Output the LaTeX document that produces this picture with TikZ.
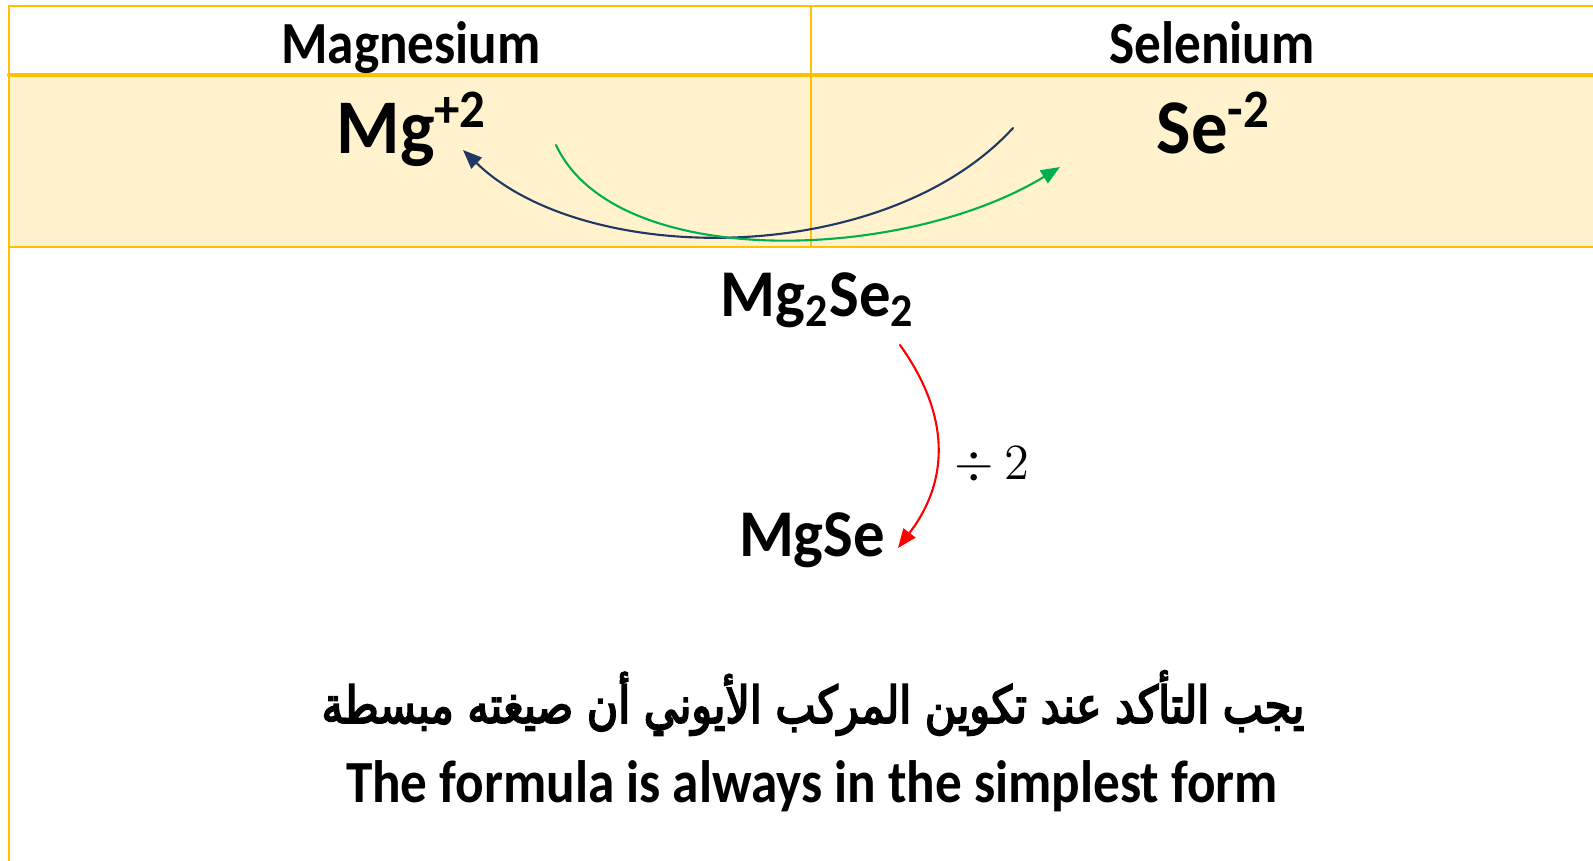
\documentclass[tikz,border=0pt]{standalone}
\usepackage{fontspec}
\setmainfont{Carlito}[FakeStretch=0.89]
\newfontfamily\formfont{Carlito}[FakeStretch=0.94]
\newfontfamily\arabicfont[Script=Arabic,FakeBold=3.5,FakeStretch=0.84]{DejaVu Sans}
\TeXXeTstate=1
\usepackage{tikz}
\usetikzlibrary{arrows.meta}
\usepackage{xcolor}
\definecolor{tblline}{HTML}{FFC000}
\definecolor{tblfill}{HTML}{FFF2CC}
\definecolor{navyarr}{HTML}{203864}
\definecolor{greenarr}{HTML}{00B050}

\begin{document}
\begin{tikzpicture}[x=0.01cm,y=-0.01cm,>={Triangle[length=1.9mm,width=1.5mm]},line cap=round,font=\bfseries]
\useasboundingbox (0,0) rectangle (1593,861);
\fill[tblfill] (9,75) rectangle (1593,247);
\draw[tblline,line width=0.75pt] (1593,6) -- (9,6) -- (9,861);
\draw[tblline,line width=1.2pt] (9,75) -- (1593,75);
\draw[tblline,line width=0.75pt] (9,247) -- (1593,247);
\draw[tblline,line width=0.6pt] (811,6) -- (811,247);
\node[anchor=base,font=\bfseries\fontsize{17}{20}\selectfont] (magn) at (411,64) {Magnesium};
\node[anchor=base,font=\bfseries\fontsize{17}{20}\selectfont] (selen) at (1212,64) {Selenium};
\node[anchor=base,font=\formfont\bfseries\fontsize{22}{26}\selectfont] (mgion) at (412,154) {Mg\textsuperscript{+2}};
\node[anchor=base,font=\formfont\bfseries\fontsize{22}{26}\selectfont] (seion) at (1214,154) {Se\textsuperscript{-2}};
\node[anchor=base,font=\formfont\bfseries\fontsize{19}{23}\selectfont] (mgtwose) at (818,317) {Mg\textsubscript{2}Se\textsubscript{2}};
\node[anchor=base,font=\formfont\bfseries\fontsize{19}{23}\selectfont] (mgse) at (812,557) {MgSe};
\node[anchor=base,font=\fontsize{15.5}{18}\selectfont] (divtwo) at (992,480) {$\div\ 2$};
\node[anchor=base,font=\fontsize{14.5}{18}\selectfont] (ar) at (813,723) {\arabicfont\beginR يجب التأكد عند تكوين المركب الأيوني أن صيغته مبسطة\endR};
\node[anchor=base,font=\bfseries\fontsize{17}{20}\selectfont] (en) at (812,803) {The formula is always in the simplest form};
\coordinate (navys) at (1013,128);
\coordinate (navye) at (463,150);
\coordinate (greens) at (556,145);
\coordinate (greene) at (1060,167);
\coordinate (reds) at (900,345);
\coordinate (rede) at (898,548);
\draw[navyarr,line width=0.6pt,->] (navys) .. controls (885,268) and (585,268) .. (navye);
\draw[greenarr,line width=0.6pt,->] (greens) .. controls (615,272) and (905,262) .. (greene);
\draw[red,line width=0.6pt,->] (reds) .. controls (950,415) and (950,480) .. (rede);
\end{tikzpicture}
\end{document}
